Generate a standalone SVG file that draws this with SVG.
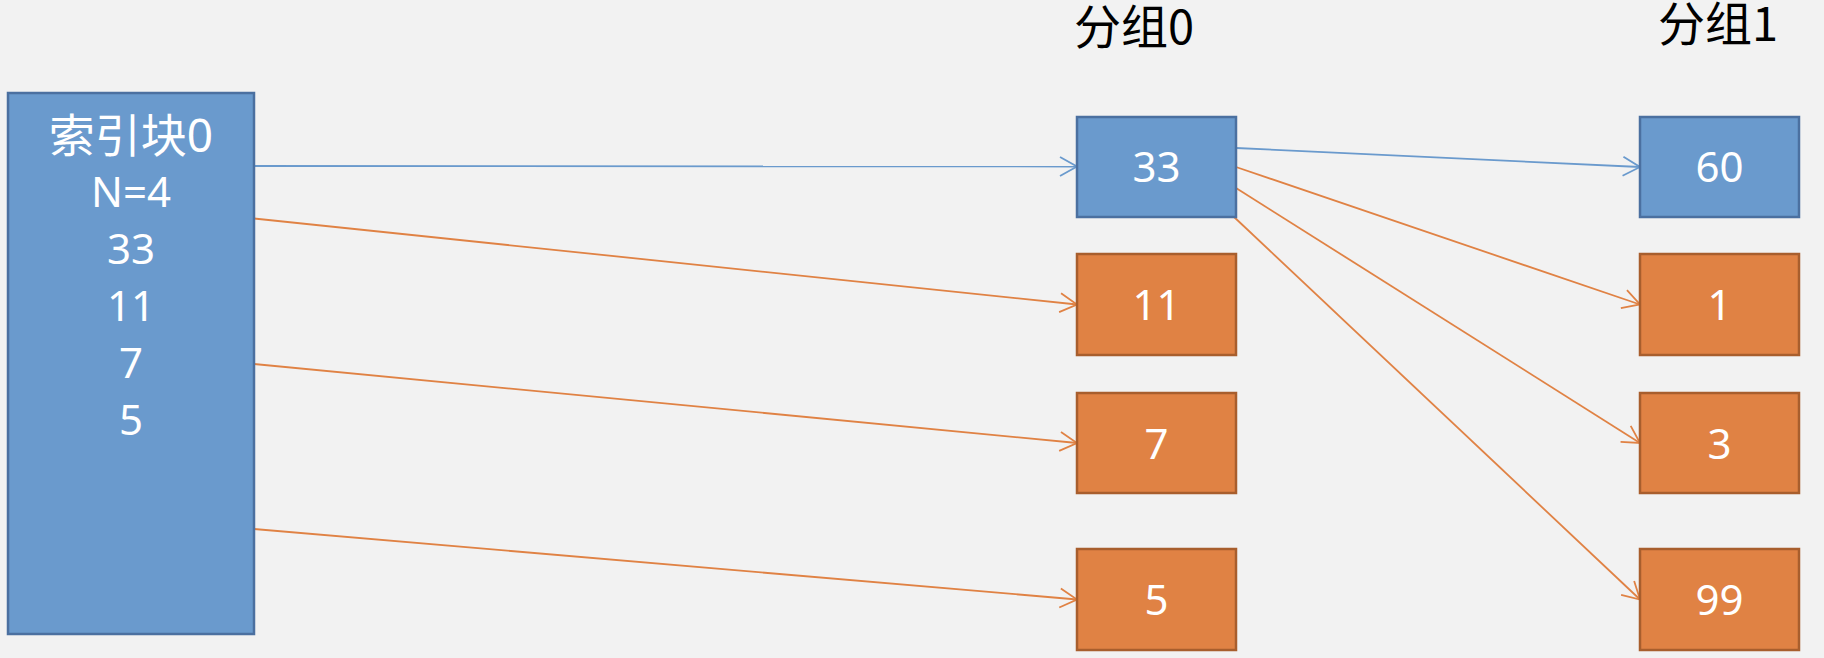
<svg xmlns="http://www.w3.org/2000/svg" width="1824" height="658" viewBox="0 0 1824 658">
<style>
.bg{fill:#f2f2f2}
.blue{fill:#6a9acd;stroke:#4b70a0;stroke-width:2.5}
.orange{fill:#e08244;stroke:#a85e2d;stroke-width:2.5}
.t{font-family:"Noto Sans","Noto Sans CJK SC",sans-serif;fill:#ffffff;text-anchor:middle}
.n{font-size:42px}
.title{font-family:"Noto Sans CJK SC","Noto Sans",sans-serif;font-size:47px;fill:#000000;text-anchor:middle}
.cb{stroke:#6a9acd;stroke-width:1.8;fill:none}
.co{stroke:#e08244;stroke-width:1.8;fill:none}
</style>
<defs>
<marker id="mb" markerUnits="userSpaceOnUse" viewBox="0 0 20 22" markerWidth="20" markerHeight="22" refX="18" refY="11" orient="auto" overflow="visible">
<path d="M1,1.5 L18,11 L1,20.5" fill="none" stroke="#6a9acd" stroke-width="1.8"/>
</marker>
<marker id="mo" markerUnits="userSpaceOnUse" viewBox="0 0 20 22" markerWidth="20" markerHeight="22" refX="18" refY="11" orient="auto" overflow="visible">
<path d="M1,1.5 L18,11 L1,20.5" fill="none" stroke="#e08244" stroke-width="1.8"/>
</marker>
</defs>
<rect class="bg" x="0" y="0" width="1824" height="658"/>
<text class="title" x="1134" y="44">分组0</text>
<text class="title" x="1718" y="41">分组1</text>
<g id="connectors">
<line class="cb" x1="254" y1="166" x2="1077" y2="166.5" marker-end="url(#mb)"/>
<line class="co" x1="254" y1="218.5" x2="1077" y2="304.5" marker-end="url(#mo)"/>
<line class="co" x1="254" y1="364" x2="1077" y2="443" marker-end="url(#mo)"/>
<line class="co" x1="254" y1="529" x2="1077" y2="599.5" marker-end="url(#mo)"/>
<line class="cb" x1="1236" y1="148" x2="1640" y2="167" marker-end="url(#mb)"/>
<line class="co" x1="1236" y1="167" x2="1640" y2="304.5" marker-end="url(#mo)"/>
<line class="co" x1="1236" y1="188" x2="1640" y2="443" marker-end="url(#mo)"/>
<line class="co" x1="1233" y1="216" x2="1640" y2="599.5" marker-end="url(#mo)"/>
</g>
<g id="index0">
<rect class="blue" x="8" y="93" width="246" height="541"/>
<text class="t" x="131" y="152" style="font-size:46px">索引块0</text>
<text class="t n" x="131" y="207">N=4</text>
<text class="t n" x="131" y="264">33</text>
<text class="t n" x="131" y="321">11</text>
<text class="t n" x="131" y="378">7</text>
<text class="t n" x="131" y="435">5</text>
</g>
<g id="g0-33"><rect class="blue" x="1077" y="117" width="159" height="100"/><text class="t n" x="1156.5" y="182">33</text></g>
<g id="g0-11"><rect class="orange" x="1077" y="254" width="159" height="101"/><text class="t n" x="1156.5" y="320">11</text></g>
<g id="g0-7"><rect class="orange" x="1077" y="393" width="159" height="100"/><text class="t n" x="1156.5" y="459">7</text></g>
<g id="g0-5"><rect class="orange" x="1077" y="549" width="159" height="101"/><text class="t n" x="1156.5" y="615">5</text></g>
<g id="g1-60"><rect class="blue" x="1640" y="117" width="159" height="100"/><text class="t n" x="1719.5" y="182">60</text></g>
<g id="g1-1"><rect class="orange" x="1640" y="254" width="159" height="101"/><text class="t n" x="1719.5" y="320">1</text></g>
<g id="g1-3"><rect class="orange" x="1640" y="393" width="159" height="100"/><text class="t n" x="1719.5" y="459">3</text></g>
<g id="g1-99"><rect class="orange" x="1640" y="549" width="159" height="101"/><text class="t n" x="1719.5" y="615">99</text></g>
</svg>
